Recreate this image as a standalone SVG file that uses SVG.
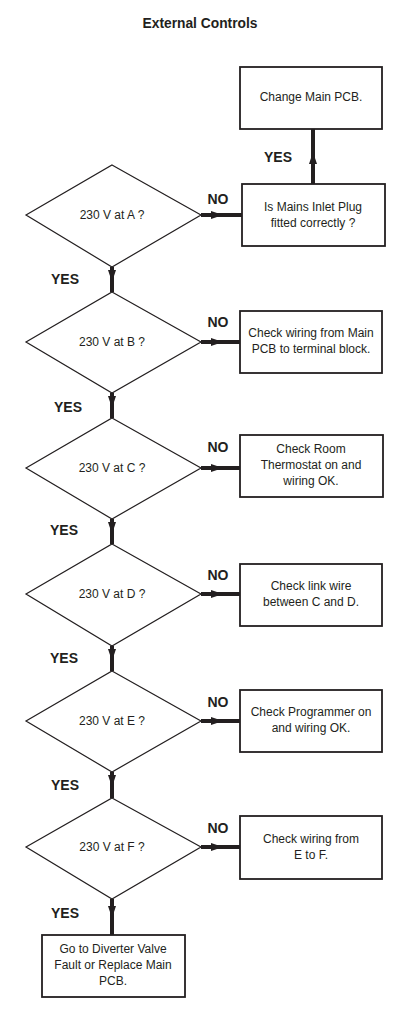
<svg xmlns="http://www.w3.org/2000/svg" width="414" height="1025" viewBox="0 0 414 1025">
<defs>
<marker id="ah" viewBox="0 0 12 8" refX="12" refY="4" markerWidth="12" markerHeight="8" markerUnits="userSpaceOnUse" orient="auto">
<path d="M0,0 L12,4 L0,8 Z" fill="#231f20"/>
</marker>
<style>
.box{fill:#fff;stroke:#231f20;stroke-width:1.8}
.dia{fill:#fff;stroke:#231f20;stroke-width:1.2}
.t{font-family:"Liberation Sans",Arial,sans-serif;font-size:12px;fill:#231f20;text-anchor:middle}
.lbl{font-family:"Liberation Sans",Arial,sans-serif;font-size:14px;font-weight:bold;fill:#231f20;text-anchor:middle}
.title{font-family:"Liberation Sans",Arial,sans-serif;font-size:13.8px;font-weight:bold;fill:#231f20;text-anchor:middle}
.c{fill:none;stroke:#231f20;stroke-width:4;marker-mid:url(#ah)}
</style>
</defs>
<rect width="414" height="1025" fill="#fff"/>
<text class="title" x="200" y="28">External Controls</text>

<g id="connectors">
<path class="c" d="M201,215 L223,215 L242,215"/>
<path class="c" d="M313,184 L313,152 L313,129"/>
<path class="c" d="M112,267 L112,282 L112,292"/>
<path class="c" d="M201,342 L223,342 L240,342"/>
<path class="c" d="M112,393 L112,408 L112,418"/>
<path class="c" d="M201,468 L223,468 L240,468"/>
<path class="c" d="M112,519 L112,534 L112,544"/>
<path class="c" d="M201,594 L223,594 L240,594"/>
<path class="c" d="M112,646 L112,661 L112,671"/>
<path class="c" d="M201,721 L223,721 L240,721"/>
<path class="c" d="M112,772 L112,787 L112,798"/>
<path class="c" d="M201,847 L223,847 L240,847"/>
<path class="c" d="M112,899 L112,918 L112,935"/>
<text class="lbl" x="218" y="204">NO</text>
<text class="lbl" x="278" y="162">YES</text>
<text class="lbl" x="65" y="284">YES</text>
<text class="lbl" x="218" y="327">NO</text>
<text class="lbl" x="68" y="412">YES</text>
<text class="lbl" x="218" y="452">NO</text>
<text class="lbl" x="64" y="535">YES</text>
<text class="lbl" x="218" y="580">NO</text>
<text class="lbl" x="64" y="663">YES</text>
<text class="lbl" x="218" y="707">NO</text>
<text class="lbl" x="65" y="790">YES</text>
<text class="lbl" x="218" y="833">NO</text>
<text class="lbl" x="65" y="918">YES</text>
</g>

<g id="change-pcb">
<rect class="box" x="240" y="67" width="142" height="62"/>
<text class="t" x="311" y="101">Change Main PCB.</text>
</g>
<g id="mains-plug">
<rect class="box" x="242" y="184" width="143" height="62"/>
<text class="t" x="313" y="211">Is Mains Inlet Plug</text>
<text class="t" x="313" y="227">fitted correctly ?</text>
</g>
<g id="dA">
<polygon class="dia" points="112,165 201,215 112,267 26,215"/>
<text class="t" x="112" y="219">230 V at A ?</text>
</g>
<g id="dB">
<polygon class="dia" points="112,292 201,342 112,393 26,342"/>
<text class="t" x="112" y="346">230 V at B ?</text>
</g>
<g id="boxB">
<rect class="box" x="240" y="311" width="142" height="62"/>
<text class="t" x="311" y="337">Check wiring from Main</text>
<text class="t" x="311" y="353">PCB to terminal block.</text>
</g>
<g id="dC">
<polygon class="dia" points="112,418 201,468 112,519 26,468"/>
<text class="t" x="112" y="472">230 V at C ?</text>
</g>
<g id="boxC">
<rect class="box" x="240" y="435" width="143" height="62"/>
<text class="t" x="311" y="453">Check Room</text>
<text class="t" x="311" y="469">Thermostat on and</text>
<text class="t" x="311" y="485">wiring OK.</text>
</g>
<g id="dD">
<polygon class="dia" points="112,544 201,594 112,646 26,594"/>
<text class="t" x="112" y="598">230 V at D ?</text>
</g>
<g id="boxD">
<rect class="box" x="240" y="564" width="142" height="62"/>
<text class="t" x="311" y="590">Check link wire</text>
<text class="t" x="311" y="606">between C and D.</text>
</g>
<g id="dE">
<polygon class="dia" points="112,671 201,721 112,772 26,721"/>
<text class="t" x="112" y="725">230 V at E ?</text>
</g>
<g id="boxE">
<rect class="box" x="240" y="690" width="142" height="62"/>
<text class="t" x="311" y="716">Check Programmer on</text>
<text class="t" x="311" y="732">and wiring OK.</text>
</g>
<g id="dF">
<polygon class="dia" points="112,798 201,847 112,899 26,847"/>
<text class="t" x="112" y="851">230 V at F ?</text>
</g>
<g id="boxF">
<rect class="box" x="240" y="816" width="142" height="63"/>
<text class="t" x="311" y="843">Check wiring from</text>
<text class="t" x="311" y="859">E to F.</text>
</g>
<g id="final">
<rect class="box" x="42" y="935" width="143" height="62"/>
<text class="t" x="113" y="953">Go to Diverter Valve</text>
<text class="t" x="113" y="969">Fault or Replace Main</text>
<text class="t" x="113" y="985">PCB.</text>
</g>
</svg>
